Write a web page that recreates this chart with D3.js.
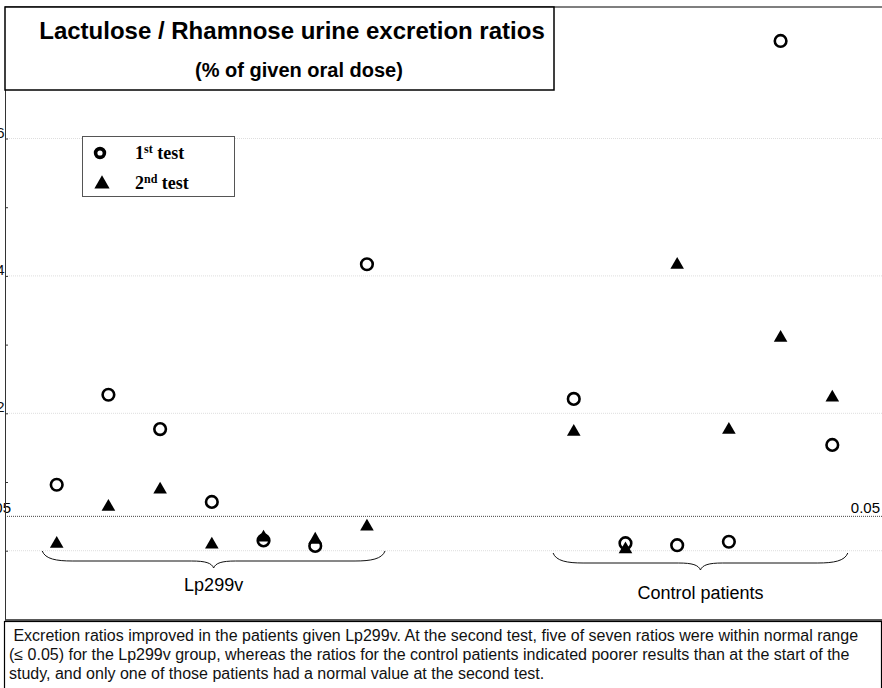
<!DOCTYPE html>
<meta charset="utf-8">
<style>
body { margin: 0; background: #fff; }
svg { display: block; font-family: "Liberation Sans", Arial, sans-serif; }
.grid line { stroke: #dedede; stroke-dasharray: 1,1; }
.axis path, .axis line { stroke: #333; }
.axis text { font-size: 15px; fill: #111; }
.brace { fill: none; stroke: #111; stroke-width: 1; }
.legend text { font-family: "Liberation Serif", "Times New Roman", serif; font-weight: bold; font-size: 18px; }
.caption { font-size: 16px; fill: #111; }
</style>
<svg id="chart" width="882" height="688"></svg>
<script src="https://cdn.jsdelivr.net/npm/d3@7"></script>
<script>
// values (% of given oral dose)
var groups = ["Lp299v", "Control patients"];
var lpSlots = [1, 2, 3, 4, 5, 6, 7];
var ctrlSlots = [11, 12, 13, 14, 15, 16];
var lpFirst = [0.096, 0.227, 0.177, 0.071, 0.015, 0.007, 0.417];
var lpSecond = [0.010, 0.064, 0.089, 0.009, 0.019, 0.016, 0.035];
var ctrlFirst = [0.221, 0.011, 0.008, 0.013, 0.742, 0.154];
var ctrlSecond = [0.173, 0.002, 0.416, 0.176, 0.310, 0.223];
var yTicks = [0, 0.1, 0.2, 0.3, 0.4, 0.5, 0.6, 0.7];
var yLabels = ["", "", "0.2", "", "0.4", "", "0.6", ""];
var gridTicks = [0, 0.2, 0.4, 0.6];
var normalLimit = 0.05;
var captionLines = [
  " Excretion ratios improved in the patients given Lp299v. At the second test, five of seven ratios were within normal range",
  "(\u2264 0.05) for the Lp299v group, whereas the ratios for the control patients indicated poorer results than at the start of the",
  "study, and only one of those patients had a normal value at the second test."
];

var svg = d3.select("#chart"),
    width = +svg.attr("width");

var x = d3.scaleLinear().domain([0, 17]).range([5, 884]);
var y = d3.scaleLinear().domain([-0.1, 0.79]).range([619.4, 8]);

// gridlines
svg.append("g").attr("class", "grid")
  .selectAll("line").data(gridTicks).enter().append("line")
    .attr("x1", 5).attr("x2", width)
    .attr("y1", function(d) { return y(d); })
    .attr("y2", function(d) { return y(d); });

// normal range line 0.05
svg.append("line")
  .attr("x1", 5).attr("x2", width)
  .attr("y1", y(normalLimit)).attr("y2", y(normalLimit))
  .style("stroke", "#444").style("stroke-dasharray", "1,1");
svg.append("text").attr("x", 11).attr("y", y(normalLimit) - 3)
  .attr("text-anchor", "end").style("font-size", "15px").text("0.05");
svg.append("text").attr("x", 880).attr("y", y(normalLimit) - 3)
  .attr("text-anchor", "end").style("font-size", "15px").text("0.05");

// frame lines
svg.append("line").attr("x1", 5).attr("x2", width).attr("y1", 7).attr("y2", 7)
  .style("stroke", "#555").style("stroke-width", 1.5);
svg.append("line").attr("x1", 5).attr("x2", width).attr("y1", 620).attr("y2", 620)
  .style("stroke", "#222").style("stroke-width", 1.5);

// y axis, ticks pointing inwards, labels cut by the page edge as in the source
var axis = svg.append("g").attr("class", "axis")
  .attr("transform", "translate(5,0)")
  .call(d3.axisLeft(y).tickValues(yTicks).tickSize(-3).tickSizeOuter(0).tickPadding(0.5)
    .tickFormat(function(d, i) { return yLabels[i]; }));
axis.selectAll("text").attr("dy", "-0.1em");

// title box
svg.append("rect").attr("x", 5).attr("y", 7).attr("width", 549).attr("height", 83)
  .style("fill", "#fff").style("stroke", "#000").style("stroke-width", 1.5);
svg.append("text").attr("x", 292).attr("y", 39).attr("text-anchor", "middle")
  .style("font-size", "24px").style("font-weight", "bold")
  .text("Lactulose / Rhamnose urine excretion ratios");
svg.append("text").attr("x", 299).attr("y", 77).attr("text-anchor", "middle")
  .style("font-size", "20px").style("font-weight", "bold")
  .text("(% of given oral dose)");

// points
function pairs(slots, vals) {
  return slots.map(function(s, i) { return {slot: s, v: vals[i]}; });
}
var firstTest = pairs(lpSlots, lpFirst).concat(pairs(ctrlSlots, ctrlFirst));
var secondTest = pairs(lpSlots, lpSecond).concat(pairs(ctrlSlots, ctrlSecond));

var tri = d3.symbol().type(d3.symbolTriangle).size(80);

svg.append("g").selectAll("path").data(secondTest).enter().append("path")
  .attr("d", tri)
  .attr("transform", function(d) { return "translate(" + x(d.slot) + "," + y(d.v) + ")"; })
  .style("fill", "#000");

svg.append("g").selectAll("circle").data(firstTest).enter().append("circle")
  .attr("cx", function(d) { return x(d.slot); })
  .attr("cy", function(d) { return y(d.v); })
  .attr("r", 5.8)
  .style("fill", "none").style("stroke", "#000").style("stroke-width", 2.6);

// curly braces under each group
function brace(x0, x1, y0, depth) {
  var m = (x0 + x1) / 2, f = y0 + depth, tip = f + 7;
  return "M" + x0 + "," + y0 +
    "C" + (x0 + 3) + "," + (f - 2) + " " + (x0 + 14) + "," + f + " " + (x0 + 30) + "," + f +
    "L" + (m - 22) + "," + f +
    "C" + (m - 8) + "," + f + " " + (m - 2) + "," + (f + 2) + " " + m + "," + tip +
    "C" + (m + 2) + "," + (f + 2) + " " + (m + 8) + "," + f + " " + (m + 22) + "," + f +
    "L" + (x1 - 30) + "," + f +
    "C" + (x1 - 14) + "," + f + " " + (x1 - 3) + "," + (f - 2) + " " + x1 + "," + y0;
}
var braces = [
  {x0: x(lpSlots[0] - 0.28), x1: x(lpSlots[lpSlots.length - 1] + 0.35), y0: 551, depth: 10, ty: 591},
  {x0: x(ctrlSlots[0] - 0.4), x1: x(ctrlSlots[ctrlSlots.length - 1] + 0.3), y0: 553, depth: 10, ty: 599}
];
braces.forEach(function(b, i) {
  svg.append("path").attr("class", "brace").attr("d", brace(b.x0, b.x1, b.y0, b.depth));
  svg.append("text").attr("x", (b.x0 + b.x1) / 2).attr("y", b.ty)
    .attr("text-anchor", "middle").style("font-size", "18px").text(groups[i]);
});

// legend
var legend = svg.append("g").attr("class", "legend");
legend.append("rect").attr("x", 82.5).attr("y", 136.5).attr("width", 152).attr("height", 60)
  .style("fill", "#fff").style("stroke", "#555");
legend.append("circle").attr("cx", 100).attr("cy", 153).attr("r", 4.4)
  .style("fill", "none").style("stroke", "#000").style("stroke-width", 3.6);
legend.append("path").attr("d", d3.symbol().type(d3.symbolTriangle).size(100))
  .attr("transform", "translate(102,184)");
var l1 = legend.append("text").attr("x", 135).attr("y", 159);
l1.append("tspan").text("1");
l1.append("tspan").attr("dy", -6).style("font-size", "12px").text("st");
l1.append("tspan").attr("dy", 6).text(" test");
var l2 = legend.append("text").attr("x", 135).attr("y", 189);
l2.append("tspan").text("2");
l2.append("tspan").attr("dy", -6).style("font-size", "12px").text("nd");
l2.append("tspan").attr("dy", 6).text(" test");

// caption box
svg.append("rect").attr("x", 4.5).attr("y", 621.5).attr("width", 877).attr("height", 70)
  .style("fill", "#fff").style("stroke", "#000").style("stroke-width", 1.2);
svg.append("text").attr("class", "caption")
  .selectAll("tspan").data(captionLines).enter().append("tspan")
    .attr("x", 9).attr("y", function(d, i) { return 641 + i * 19; })
    .attr("xml:space", "preserve")
    .style("white-space", "pre")
    .text(function(d) { return d; });
</script>
